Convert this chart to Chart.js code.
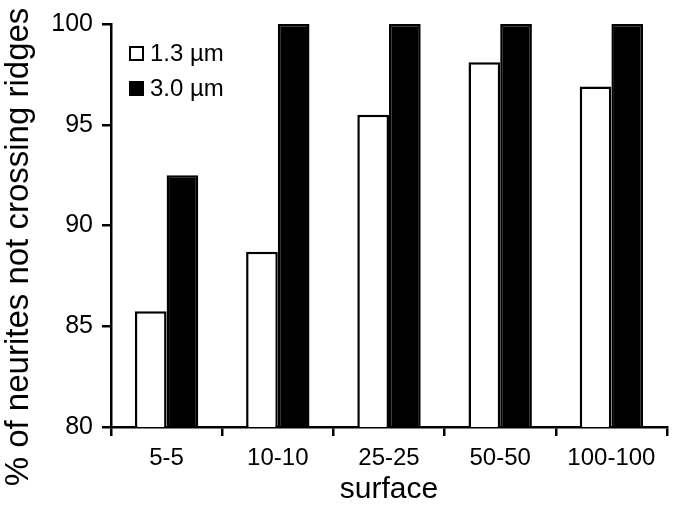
<!DOCTYPE html>
<html>
<head>
<meta charset="utf-8">
<script src="https://cdn.jsdelivr.net/npm/chart.js@4.4.0/dist/chart.umd.min.js"></script>
<style>
  html,body{margin:0;padding:0;background:#fff;}
  #wrap{width:676px;height:512px;}
</style>
</head>
<body>
<div id="wrap"><canvas id="c" width="676" height="512"></canvas></div>
<script>
const surfaces = ["5-5", "10-10", "25-25", "50-50", "100-100"];
const ridge13 = [85.75, 88.7, 95.5, 98.1, 96.9];
const ridge30 = [92.5, 100, 100, 100, 100];
const yTicks = [80, 85, 90, 95, 100];
const yTitle = "% of neurites not crossing ridges";

const FONT = "'Liberation Sans', Arial, sans-serif";

// legend inside the plot (top left) + y title, which sits a bit below the plot centre
const extras = {
  id: "extras",
  afterDraw(chart){
    const ctx = chart.ctx;
    const x0 = chart.chartArea.left + 18;
    let y = chart.chartArea.top + 29;
    chart.data.datasets.forEach(ds => {
      ctx.save();
      ctx.fillStyle = ds.backgroundColor;
      ctx.strokeStyle = "#000";
      ctx.lineWidth = 2;
      ctx.fillRect(x0, y - 7, 15, 15);
      ctx.strokeRect(x0 + 1, y - 6, 13, 13);
      ctx.fillStyle = "#000";
      ctx.font = "24px " + FONT;
      ctx.textBaseline = "middle";
      ctx.fillText(ds.label, x0 + 21, y + 1);
      ctx.restore();
      y += 35;
    });

    ctx.save();
    ctx.translate(19, 247);
    ctx.rotate(-Math.PI / 2);
    ctx.fillStyle = "#000";
    ctx.font = "33px " + FONT;
    ctx.textAlign = "center";
    ctx.textBaseline = "middle";
    ctx.fillText(yTitle, 0, 0);
    ctx.restore();
  }
};

new Chart(document.getElementById("c"), {
  type: "bar",
  data: {
    labels: surfaces,
    datasets: [
      {label: "1.3 \u00b5m", data: ridge13, backgroundColor: "#ffffff", borderColor: "#000", borderWidth: 2.5},
      {label: "3.0 \u00b5m", data: ridge30, backgroundColor: "#000000", borderColor: "#000", borderWidth: 2.5}
    ]
  },
  options: {
    responsive: false,
    animation: false,
    layout: {padding: {top: 24, right: 9, left: 0, bottom: 0}},
    datasets: {bar: {categoryPercentage: 0.57, barPercentage: 1.0, borderSkipped: "start"}},
    plugins: {legend: {display: false}, tooltip: {enabled: false}},
    scales: {
      x: {
        grid: {drawOnChartArea: false, drawTicks: true, tickLength: 9, color: "#000", lineWidth: 2.5},
        border: {color: "#000", width: 2.5},
        ticks: {color: "#000", font: {family: FONT, size: 24}, padding: 8},
        title: {display: true, text: "surface", color: "#000", font: {family: FONT, size: 30}, padding: {top: 0}},
        afterFit(s){ s.height = 85; }
      },
      y: {
        min: 80, max: 100,
        afterBuildTicks(s){ s.ticks = yTicks.map(v => ({value: v})); },
        grid: {drawOnChartArea: false, drawTicks: true, tickLength: 9, color: "#000", lineWidth: 2.5},
        border: {color: "#000", width: 2.5},
        ticks: {color: "#000", font: {family: FONT, size: 25}, padding: 9},
        afterFit(s){ s.width = 111; }
      }
    }
  },
  plugins: [extras]
});
</script>
</body>
</html>
